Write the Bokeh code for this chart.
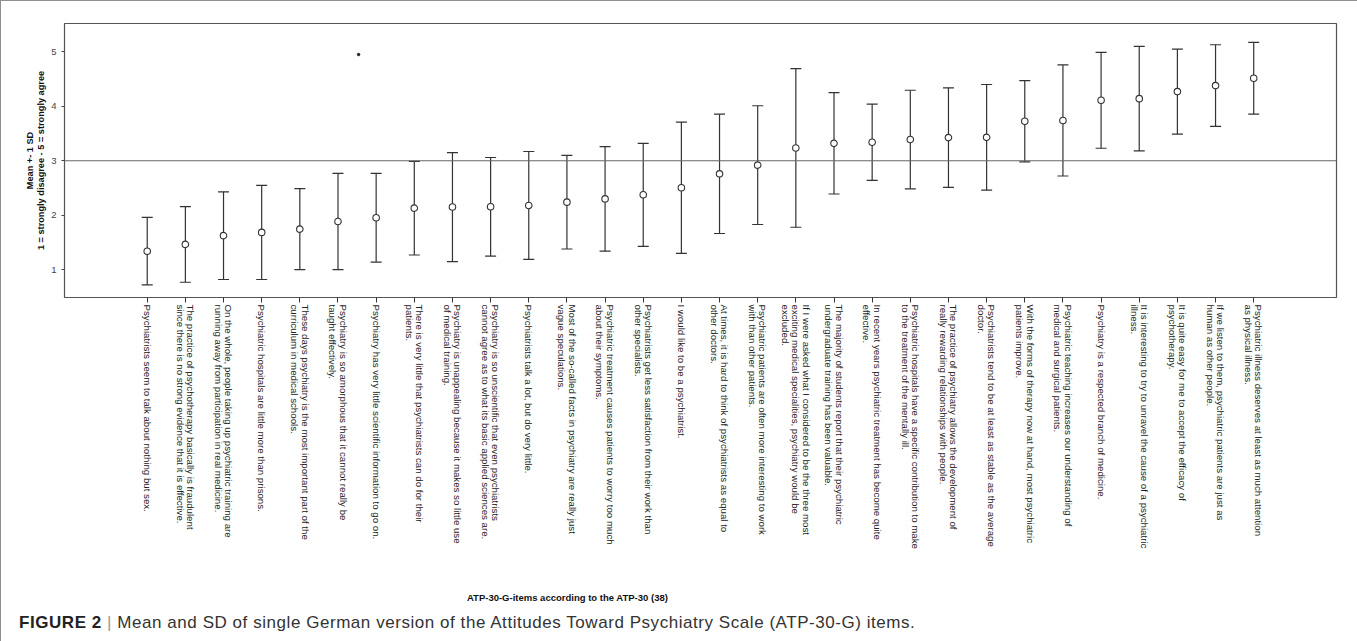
import math
from bokeh.plotting import figure
from bokeh.layouts import column
from bokeh.models import Range1d, Span, Whisker, TeeHead, ColumnDataSource, FixedTicker, LinearAxis, Div
from bokeh.embed import file_html
from bokeh.resources import INLINE

# ---------------- data ----------------
items = [
    "Psychiatrists seem to talk about nothing but sex.",
    "The practice of psychotherapy basically is fraudulent\nsince there is no strong evidence that it is effective.",
    "On the whole, people taking up psychiatric training are\nrunning away from participation in real medicine.",
    "Psychiatric hospitals are little more than prisons.",
    "These days psychiatry is the most important part of the\ncurriculum in medical schools.",
    "Psychiatry is so amorphous that it cannot really be\ntaught effectively.",
    "Psychiatry has very little scientific information to go on.",
    "There is very little that psychiatrists can do for their\npatients.",
    "Psychiatry is unappealing because it makes so little use\nof medical training.",
    "Psychiatry is so unscientific that even psychiatrists\ncannot agree as to what its basic applied sciences are.",
    "Psychiatrists talk a lot, but do very little.",
    "Most of the so-called facts in psychiatry are really just\nvague speculations.",
    "Psychiatric treatment causes patients to worry too much\nabout their symptoms.",
    "Psychiatrists get less satisfaction from their work than\nother specialists.",
    "I would like to be a psychiatrist.",
    "At times, it is hard to think of psychiatrists as equal to\nother doctors.",
    "Psychiatric patients are often more interesting to work\nwith than other patients.",
    "If I were asked what I considered to be the three most\nexciting medical specialities, psychiatry would be\nexcluded.",
    "The majority of students report that their psychiatric\nundergraduate training has been valuable.",
    "In recent years psychiatric treatment has become quite\neffective.",
    "Psychiatric hospitals have a specific contribution to make\nto the treatment of the mentally ill.",
    "The practice of psychiatry allows the development of\nreally rewarding relationships with people.",
    "Psychiatrists tend to be at least as stable as the average\ndoctor.",
    "With the forms of therapy now at hand, most psychiatric\npatients improve.",
    "Psychiatric teaching increases our understanding of\nmedical and surgical patients.",
    "Psychiatry is a respected branch of medicine.",
    "It is interesting to try to unravel the cause of a psychiatric\nillness.",
    "It is quite easy for me to accept the efficacy of\npsychotherapy.",
    "If we listen to them, psychiatric patients are just as\nhuman as other people.",
    "Psychiatric illness deserves at least as much attention\nas physical illness.",
]

means = [1.34, 1.465, 1.625, 1.685, 1.745, 1.885, 1.955, 2.13, 2.15, 2.155,
         2.18, 2.24, 2.30, 2.375, 2.505, 2.76, 2.92, 3.235, 3.32, 3.34,
         3.39, 3.425, 3.43, 3.725, 3.74, 4.11, 4.14, 4.27, 4.38, 4.515]

sds = [0.62, 0.695, 0.805, 0.865, 0.745, 0.885, 0.815, 0.86, 1.0, 0.905,
       0.99, 0.86, 0.96, 0.945, 1.205, 1.095, 1.09, 1.455, 0.93, 0.70,
       0.905, 0.915, 0.97, 0.745, 1.02, 0.88, 0.96, 0.78, 0.75, 0.66]

y_ticks = [1, 2, 3, 4, 5]
reference_value = 3
stray_x = [5.54]
stray_y = [4.95]

y_title = "Mean +- 1 SD\n1 = strongly disagree - 5 = strongly agree"
x_title = "ATP-30-G-items according to the ATP-30 (38)"
caption_bold = "FIGURE 2"
caption_rest = "Mean and SD of single German version of the Attitudes Toward Psychiatry Scale (ATP-30-G) items."

# ---------------- figure ----------------
xs = list(range(len(items)))
lower = [m - s for m, s in zip(means, sds)]
upper = [m + s for m, s in zip(means, sds)]
src = ColumnDataSource(dict(x=xs, mean=means, lower=lower, upper=upper))

p = figure(width=1351, height=605, output_backend="svg", toolbar_location=None,
           x_range=Range1d(-2.168, 31.17), y_range=Range1d(0.49, 5.52),
           min_border_left=63, min_border_right=16, min_border_top=22, min_border_bottom=309)
p.xgrid.visible = False
p.ygrid.visible = False
p.outline_line_color = "#555555"
p.outline_line_width = 1.2
p.background_fill_color = "white"
p.border_fill_color = "white"

# y axis
p.yaxis.ticker = FixedTicker(ticks=y_ticks)
p.yaxis.axis_line_color = None
p.yaxis.major_tick_in = 0
p.yaxis.major_tick_out = 3
p.yaxis.minor_tick_line_color = None
p.yaxis.major_tick_line_color = "#444444"
p.yaxis.major_label_text_font = "Liberation Sans"
p.yaxis.major_label_text_font_size = "9.5px"
p.yaxis.major_label_text_color = "#444444"
p.yaxis.major_label_standoff = 5
p.yaxis.axis_label = y_title
p.yaxis.axis_label_text_font = "Liberation Sans"
p.yaxis.axis_label_text_font_size = "9.2px"
p.yaxis.axis_label_text_font_style = "bold"
p.yaxis.axis_label_text_color = "#111111"
p.yaxis.axis_label_text_line_height = 1.1
p.yaxis.axis_label_standoff = 2

# x axis with rotated multi-line item labels
p.xaxis.ticker = FixedTicker(ticks=xs)
p.xaxis.axis_line_color = None
p.xaxis.major_tick_in = 0
p.xaxis.major_tick_out = 5
p.xaxis.minor_tick_line_color = None
p.xaxis.major_tick_line_color = "#333333"
p.xaxis.major_label_overrides = {i: t for i, t in zip(xs, items)}
p.xaxis.major_label_orientation = -math.pi / 2
p.xaxis.major_label_text_font = "Liberation Sans"
p.xaxis.major_label_text_font_size = "9.7px"
p.xaxis.major_label_text_line_height = 0.95
p.xaxis.major_label_text_color = "#222222"
p.xaxis.major_label_standoff = 2

# x title as a second axis below, positioned like the reference
p.extra_x_ranges = {"title": Range1d(0, 1)}
title_pos = 0.3955
tax = LinearAxis(x_range_name="title", ticker=FixedTicker(ticks=[title_pos]),
                 major_label_overrides={title_pos: x_title})
tax.axis_line_color = None
tax.major_tick_line_color = None
tax.minor_tick_line_color = None
tax.major_tick_out = 0
tax.major_label_text_font = "Liberation Sans"
tax.major_label_text_font_size = "9.5px"
tax.major_label_text_font_style = "bold"
tax.major_label_text_color = "#111111"
tax.major_label_standoff = 40
p.add_layout(tax, "below")

# reference line at 3
p.add_layout(Span(location=reference_value, dimension="width", line_color="#666666", line_width=1.1))

# error bars
p.add_layout(Whisker(source=src, base="x", lower="lower", upper="upper",
                     line_color="#333333", line_width=1.2,
                     upper_head=TeeHead(size=11, line_color="#333333", line_width=1.2),
                     lower_head=TeeHead(size=11, line_color="#333333", line_width=1.2)))
p.scatter("x", "mean", source=src, marker="circle", size=6.5, fill_color="white",
          line_color="#333333", line_width=1.1)
p.scatter(stray_x, stray_y, marker="circle", size=2.5, color="#222222")

caption = Div(
    text=('<span style="font-weight:bold;color:#222222">' + caption_bold + '</span>'
          ' <span style="color:#9a9a9a">|</span> '
          '<span style="color:#333333">' + caption_rest + '</span>'),
    width=1351, height=34,
    styles={"font-family": "Liberation Sans", "font-size": "17px", "letter-spacing": "0.55px",
            "line-height": "24px", "padding-left": "13px", "white-space": "nowrap",
            "box-sizing": "border-box"})

layout = column(p, caption, spacing=0,
                styles={"border-left": "1px solid #8f8f8f", "border-top": "1px solid #8f8f8f",
                        "border-right": "1px solid #8f8f8f", "background-color": "white"})

open("out.html", "w").write(file_html(layout, INLINE))
